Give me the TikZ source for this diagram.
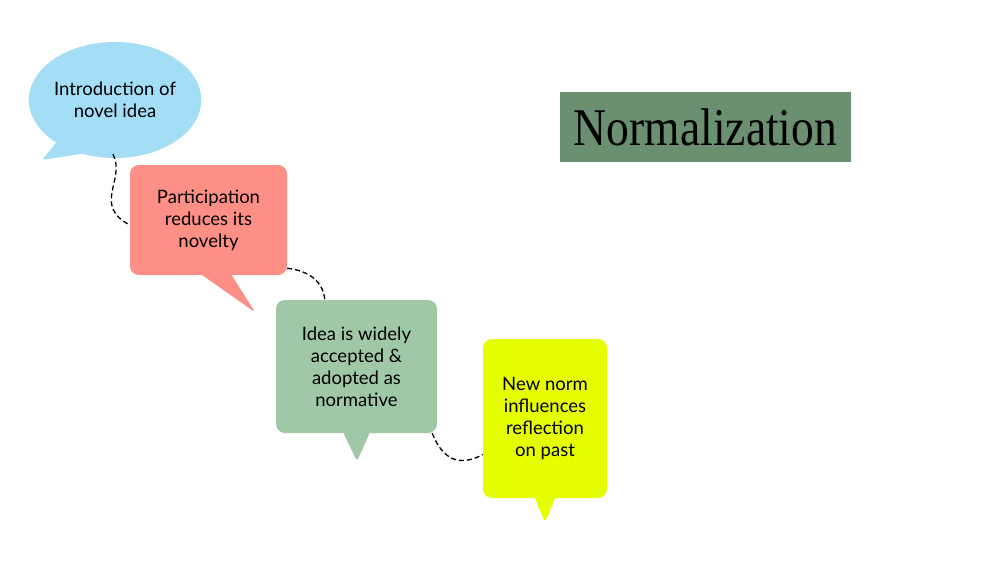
\documentclass[tikz,border=0pt]{standalone}
\usepackage{fontspec}
\newfontfamily\bodyfont{Lato}
\newfontfamily\titlefont{Liberation Serif}
\usetikzlibrary{shapes.geometric,calc}
\definecolor{bubbleblue}{HTML}{A3DDF6}
\definecolor{bubblepink}{HTML}{FD8F87}
\definecolor{bubblegreen}{HTML}{A0C8A7}
\definecolor{bubbleyellow}{HTML}{E6FF00}
\definecolor{titlegreen}{HTML}{6A9071}
\begin{document}
\begin{tikzpicture}[x=1pt,y=-1pt,
  bubble/.style={rounded corners=9pt, inner sep=0pt, align=center,
    font=\bodyfont\fontsize{18.5}{22}\selectfont, text=black},
  tail/.style={rounded corners=3pt},
  link/.style={line width=1.3pt, black, dash pattern=on 5pt off 3pt}]
\useasboundingbox (0,0) rectangle (1000,563);
\fill[white] (0,0) rectangle (1000,563);

% title
\node[fill=titlegreen, minimum width=291pt, minimum height=70pt, inner sep=0pt,
  font=\titlefont\fontsize{53}{60}\selectfont] (title) at (705.5,127) {\scalebox{0.86}[1]{Normalization}};

% blue bubble
\node[ellipse, fill=bubbleblue, minimum width=170pt, minimum height=116pt, inner sep=0pt,
  align=center, font=\bodyfont\fontsize{18.5}{22}\selectfont] (blue) at (115,100) {Introduction of\\novel idea};
\fill[bubbleblue, tail] ($(blue.center)+(-55,38)$) -- ($(blue.center)+(-73,60)$) -- ($(blue.center)+(-10,50)$) -- cycle;

% pink
\node[bubble, fill=bubblepink, minimum width=157pt, minimum height=110pt] (pink) at (208.5,220)
  {Participation\\reduces its\\novelty};
\fill[bubblepink, tail] ($(pink.south)+(-9,-2)$) -- ($(pink.south)+(46.5,37)$) -- ($(pink.south)+(22,-2)$) -- cycle;

% green
\node[bubble, fill=bubblegreen, minimum width=161pt, minimum height=133pt] (green) at (356.5,366.5)
  {Idea is widely\\accepted \&\\adopted as\\normative};
\fill[bubblegreen, tail] ($(green.south)+(-14,-2)$) -- ($(green.south)+(0.5,28)$) -- ($(green.south)+(14,-2)$) -- cycle;

% yellow
\node[bubble, fill=bubbleyellow, minimum width=124pt, minimum height=159pt] (yellow) at (545,418.5)
  {New norm\\influences\\reflection\\on past};
\fill[bubbleyellow, tail] ($(yellow.south)+(-11,-2)$) -- ($(yellow.south)+(0,24)$) -- ($(yellow.south)+(11,-2)$) -- cycle;

% connectors
\draw[link] ($(blue.south)+(-2,-4)$) .. controls (126,180) and (92,205) .. ($(pink.west)+(0,5)$);
\draw[link] ($(pink.south east)+(0,-7)$) .. controls (310,271) and (323,282) .. ($(green.north west)+(49,0)$);
\draw[link] ($(green.south east)+(-5,0)$) .. controls (442,458) and (458,468) .. ($(yellow.west)+(0,36)$);
\end{tikzpicture}
\end{document}
